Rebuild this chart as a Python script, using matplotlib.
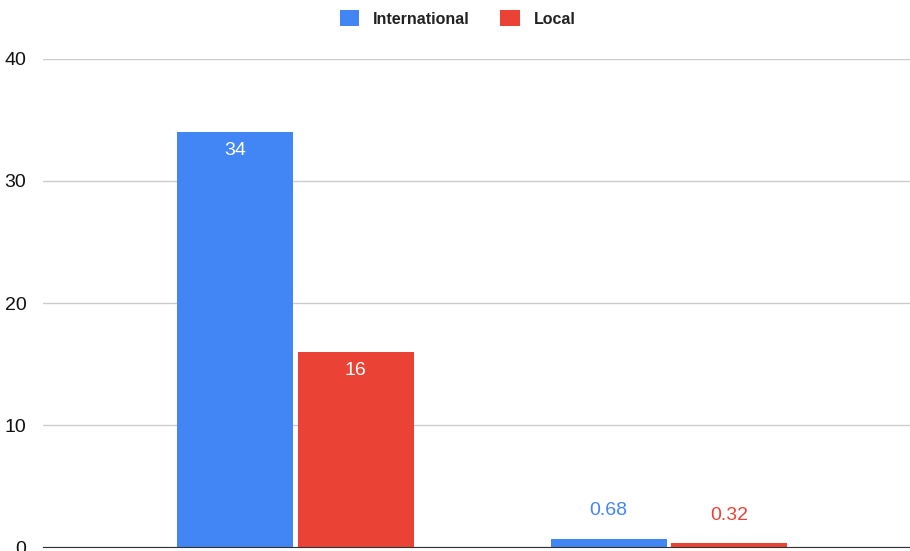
import numpy as np
import matplotlib.pyplot as plt

# data
groups = ['Group A', 'Group B']
international = [34, 0.68]
local = [16, 0.32]
series_names = ['International', 'Local']
colors = ['#4285F4', '#EA4335']

plt.rcParams['font.family'] = ['Liberation Sans', 'DejaVu Sans']

fig = plt.figure(figsize=(9.1, 5.51), dpi=100)
ax = fig.add_axes([43 / 910, 4 / 551, 1 - 43 / 910, 488 / 551])

x = np.arange(len(groups))
w = 0.311
off = 0.1615
b1 = ax.bar(x - off, international, w, color=colors[0], zorder=3)
b2 = ax.bar(x + off, local, w, color=colors[1], zorder=3)

# value labels: inside for tall bars, above for short ones
for bars, vals, col in [(b1, international, colors[0]), (b2, local, colors[1])]:
    for rect, v in zip(bars, vals):
        txt = '{:g}'.format(v)
        cx = rect.get_x() + rect.get_width() / 2
        if v > 5:
            ax.text(cx, v - 1.5, txt, ha='center', va='center', color='white', fontsize=14)
        else:
            ax.text(cx, v + 2.3, txt, ha='center', va='center', color=col, fontsize=14)

ax.set_ylim(0, 40)
ax.set_yticks([0, 10, 20, 30, 40])
ax.set_xlim(-0.676, 1.645)
ax.set_xticks([])
ax.grid(axis='y', color='#cccccc', linewidth=1, zorder=0)
for s in ['top', 'right', 'left']:
    ax.spines[s].set_visible(False)
ax.spines['bottom'].set_color('#333333')
ax.spines['bottom'].set_zorder(4)
ax.tick_params(axis='y', length=0, labelsize=14, pad=12, labelcolor='#111111')

leg = fig.legend(handles=[b1, b2], labels=series_names, loc='upper center',
                 bbox_to_anchor=(0.503, 1.008), ncol=2, frameon=False,
                 prop={'weight': 'bold', 'size': 11.5}, handlelength=1.2,
                 handleheight=1.2, columnspacing=1.9, handletextpad=0.9)
for t in leg.get_texts():
    t.set_color('#222222')

fig.savefig('out.png', dpi=100)
